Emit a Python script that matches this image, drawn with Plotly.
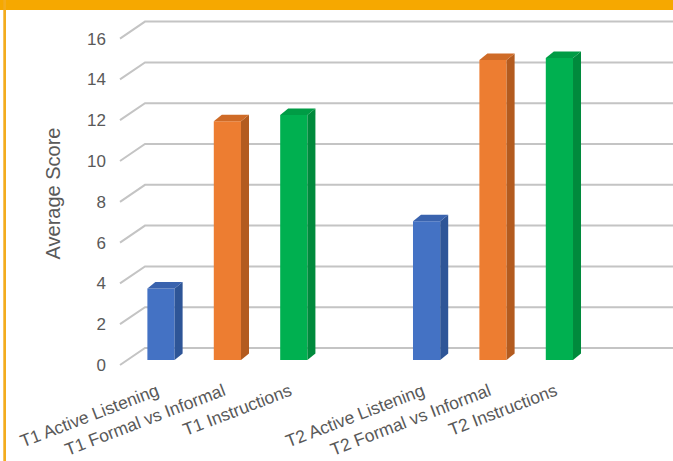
import plotly.graph_objects as go

# Average scores per task, two test rounds separated by an empty slot
categories = ["T1 Active Listening", "T1 Formal vs Informal", "T1 Instructions",
              "T2 Active Listening", "T2 Formal vs Informal", "T2 Instructions"]
scores = [3.5, 11.7, 12.0, 6.8, 14.7, 14.8]
positions = [0, 1, 2, 4, 5, 6]
y_ticks = [0, 2, 4, 6, 8, 10, 12, 14, 16]

front_colors = ["#4472C4", "#ED7D31", "#00B050", "#4472C4", "#ED7D31", "#00B050"]
side_colors = ["#2E5597", "#B35B1F", "#008A3C", "#2E5597", "#B35B1F", "#008A3C"]
top_colors = ["#3A63AE", "#CF6B27", "#009C45", "#3A63AE", "#CF6B27", "#009C45"]

W, H = 673, 461
M_L, M_R, M_T, M_B = 110, 0, 12, 86
PX_X = 66.4   # pixels per category slot
PX_Y = 20.4   # pixels per score unit
X_LO = -(161 - M_L) / PX_X
X_HI = X_LO + (W - M_L - M_R) / PX_X
Y_LO = -(H - M_B - 365) / PX_Y
Y_HI = Y_LO + (H - M_T - M_B) / PX_Y

# pseudo-3D offsets (in data units)
WALL_DX, WALL_DY = 25 / PX_X, 17 / PX_Y
BAR_W = 0.41
BAR_DX, BAR_DY = 8 / PX_X, 6.5 / PX_Y
BASE = 0.3 * WALL_DY
X_FRONT = X_LO + 10 / PX_X

fig = go.Figure()

# gridlines on the side and back walls
shapes = []
for v in y_ticks:
    shapes.append(dict(
        type="path", xref="x", yref="y", layer="below",
        path=f"M {X_FRONT},{v} L {X_FRONT + WALL_DX},{v + WALL_DY} L {X_HI + 1},{v + WALL_DY}",
        line=dict(color="#C4C4C4", width=2),
    ))

# orange frame: top band and left rule
plot_w = W - M_L - M_R
plot_h = H - M_T - M_B
def px_x(p):
    return (p - M_L) / plot_w
def px_y(p):
    return (H - M_B - p) / plot_h
shapes.append(dict(type="rect", xref="paper", yref="paper", layer="above",
                   x0=px_x(0), x1=px_x(W), y0=px_y(10), y1=px_y(0),
                   fillcolor="#F6A800", line=dict(width=0)))
shapes.append(dict(type="rect", xref="paper", yref="paper", layer="above",
                   x0=px_x(3.3), x1=px_x(6), y0=px_y(H), y1=px_y(0),
                   fillcolor="#F3AC1E", line=dict(width=0)))

# front faces
fig.add_trace(go.Bar(
    x=positions, y=scores, base=BASE, width=BAR_W,
    marker=dict(color=front_colors, line=dict(width=0)),
    hoverinfo="skip", showlegend=False,
))

# side and top faces
for p, s, sc, tc in zip(positions, scores, side_colors, top_colors):
    xl, xr = p - BAR_W / 2, p + BAR_W / 2
    top = s + BASE
    fig.add_trace(go.Scatter(
        x=[xr, xr + BAR_DX, xr + BAR_DX, xr, xr],
        y=[BASE, BASE + BAR_DY, top + BAR_DY, top, BASE],
        fill="toself", fillcolor=sc, mode="lines", line=dict(width=0, color=sc),
        hoverinfo="skip", showlegend=False,
    ))
    fig.add_trace(go.Scatter(
        x=[xl, xl + BAR_DX, xr + BAR_DX, xr, xl],
        y=[top, top + BAR_DY, top + BAR_DY, top, top],
        fill="toself", fillcolor=tc, mode="lines", line=dict(width=0, color=tc),
        hoverinfo="skip", showlegend=False,
    ))

font = "Liberation Sans, Arial, sans-serif"
fig.update_layout(
    width=W, height=H,
    margin=dict(l=M_L, r=M_R, t=M_T, b=M_B),
    paper_bgcolor="white", plot_bgcolor="white",
    shapes=shapes,
    font=dict(family=font, color="#595959"),
    xaxis=dict(
        range=[X_LO, X_HI], tickmode="array", tickvals=positions, ticktext=categories,
        tickangle=-21, tickfont=dict(size=17.5, color="#595959"),
        ticklabelshift=-4, ticklabelstandoff=2,
        showgrid=False, zeroline=False, showline=False, ticks="",
    ),
    yaxis=dict(
        range=[Y_LO, Y_HI], tickmode="array", tickvals=y_ticks,
        tickfont=dict(size=17, color="#595959"),
        showgrid=False, zeroline=False, showline=False, ticks="",
        ticklabelstandoff=3,
        title=dict(text="Average Score", font=dict(size=20, color="#595959"), standoff=21),
    ),
)

fig.write_html("out.html")
